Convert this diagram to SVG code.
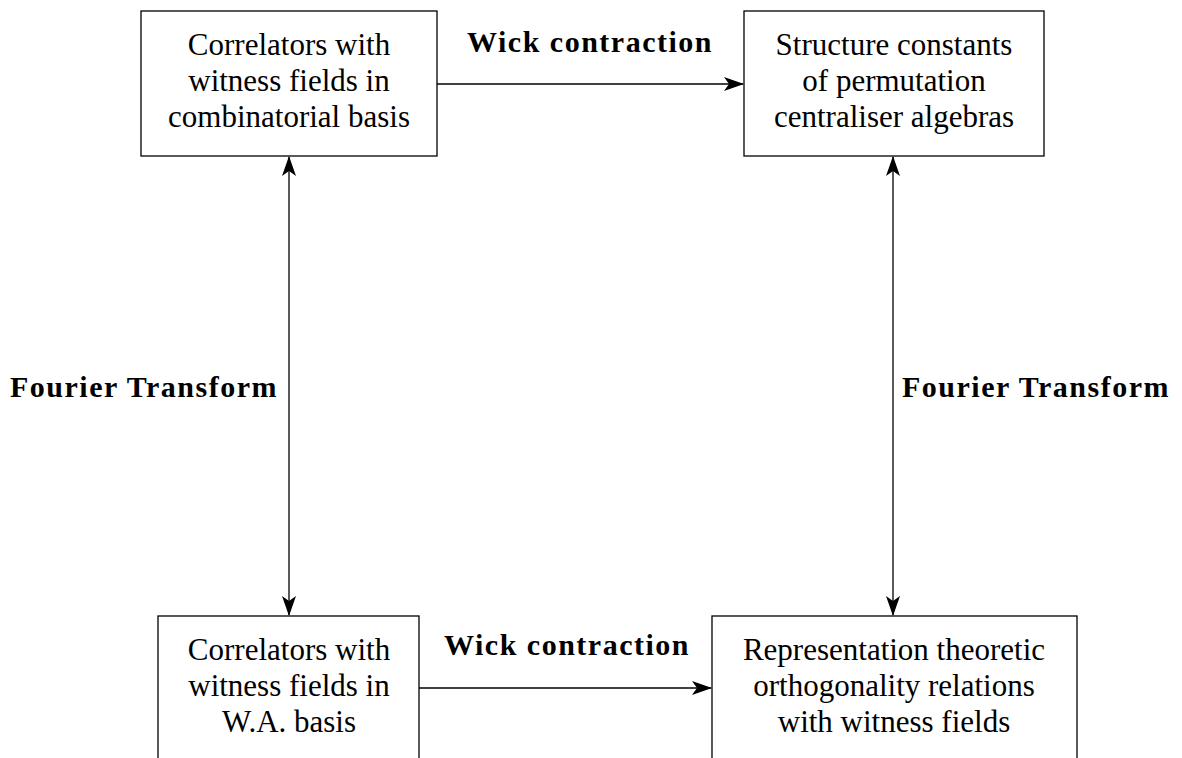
<svg xmlns="http://www.w3.org/2000/svg" width="1182" height="758" viewBox="0 0 1182 758">
<style>
.box{fill:#fff;stroke:#000;stroke-width:1.3}
.t{font-family:"Liberation Serif",serif;font-size:31px;text-anchor:middle;fill:#000}
.b{font-family:"Liberation Serif",serif;font-size:30px;font-weight:bold;letter-spacing:1.5px;text-anchor:middle;fill:#000}
.c{stroke:#000;stroke-width:1.3;fill:none}
</style>
<defs>
<marker id="ah" viewBox="0 0 20 14" refX="19" refY="7" markerWidth="20" markerHeight="14" markerUnits="userSpaceOnUse" orient="auto-start-reverse">
<path d="M0,0 L20,7 L0,14 L5,7 Z" fill="#000"/>
</marker>
</defs>
<g id="connectors">
<line class="c" x1="437" y1="84" x2="743" y2="84" marker-end="url(#ah)"/>
<line class="c" x1="419" y1="688" x2="711" y2="688" marker-end="url(#ah)"/>
<line class="c" x1="289" y1="157" x2="289" y2="615" marker-start="url(#ah)" marker-end="url(#ah)"/>
<line class="c" x1="893" y1="157" x2="893" y2="615" marker-start="url(#ah)" marker-end="url(#ah)"/>
<text class="b" x="590" y="52">Wick contraction</text>
<text class="b" x="567" y="655">Wick contraction</text>
<text class="b" x="144" y="397">Fourier Transform</text>
<text class="b" x="1036" y="397">Fourier Transform</text>
</g>
<g id="n1">
<rect class="box" x="141" y="11" width="296" height="145"/>
<text class="t" x="289" y="55">Correlators with</text>
<text class="t" x="289" y="91">witness fields in</text>
<text class="t" x="289" y="127">combinatorial basis</text>
</g>
<g id="n2">
<rect class="box" x="744" y="11" width="300" height="145"/>
<text class="t" x="894" y="55">Structure constants</text>
<text class="t" x="894" y="91">of permutation</text>
<text class="t" x="894" y="127">centraliser algebras</text>
</g>
<g id="n3">
<rect class="box" x="158" y="616" width="261" height="160"/>
<text class="t" x="289" y="660">Correlators with</text>
<text class="t" x="289" y="696">witness fields in</text>
<text class="t" x="289" y="732">W.A. basis</text>
</g>
<g id="n4">
<rect class="box" x="712" y="616" width="365" height="160"/>
<text class="t" x="894" y="660">Representation theoretic</text>
<text class="t" x="894" y="696">orthogonality relations</text>
<text class="t" x="894" y="732">with witness fields</text>
</g>
</svg>
